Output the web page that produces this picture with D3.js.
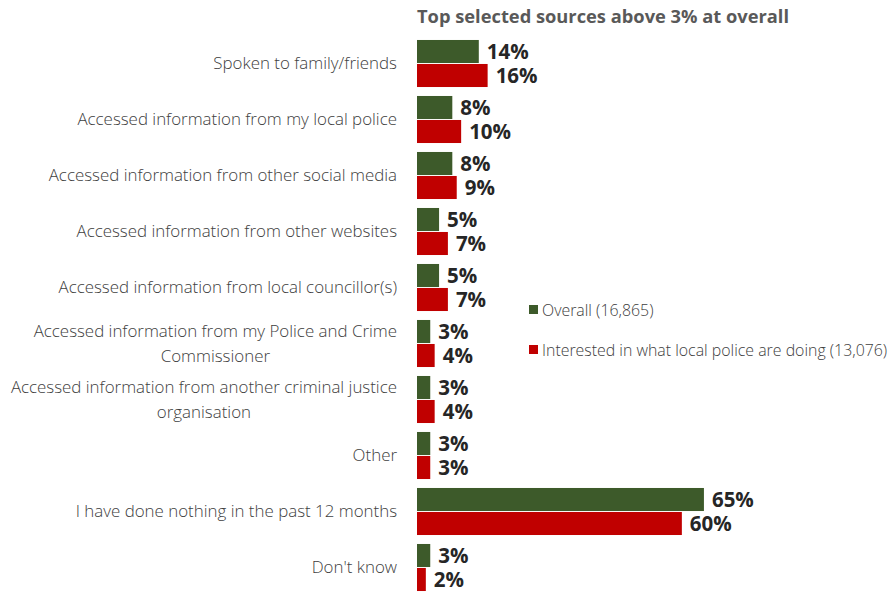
<!DOCTYPE html>
<html>
<head>
<meta charset="utf-8">
<script src="https://cdn.jsdelivr.net/npm/d3@7"></script>
<style>
  html, body { margin: 0; padding: 0; background: #ffffff; }
  svg { display: block; font-family: "Open Sans", "Noto Sans", sans-serif; }
</style>
</head>
<body>
<svg id="chart" width="890" height="592"></svg>
<script>
// Survey answers: which sources people used (percent of respondents)
const categories = [
  ["Spoken to family/friends"],
  ["Accessed information from my local police"],
  ["Accessed information from other social media"],
  ["Accessed information from other websites"],
  ["Accessed information from local councillor(s)"],
  ["Accessed information from my Police and Crime", "Commissioner"],
  ["Accessed information from another criminal justice", "organisation"],
  ["Other"],
  ["I have done nothing in the past 12 months"],
  ["Don't know"]
];
const seriesNames = ["Overall (16,865)", "Interested in what local police are doing (13,076)"];
const overall    = [14, 8, 8, 5, 5, 3, 3, 3, 65, 3];
const interested = [16, 10, 9, 7, 7, 4, 4, 3, 60, 2];
const colors = ["#3d5a2a", "#c00000"];
const title = "Top selected sources above 3% at overall";

const svg = d3.select("#chart");
const keys = categories.map(c => c.join(" "));
const values = [overall, interested];

const x = d3.scaleLinear().domain([0, 70]).range([417, 417 + 309]);
const y = d3.scaleBand().domain(keys).range([35.5, 595.5]).paddingInner(0.16).paddingOuter(0.08);
const ySub = d3.scaleBand().domain([0, 1]).range([0, y.bandwidth()]).paddingInner(0.04);

// Title
svg.append("text")
  .attr("x", 417).attr("y", 23)
  .attr("font-size", 18.3).attr("font-weight", 700)
  .attr("fill", "#595959")
  .text(title);

// Category labels (right aligned, wrapped ones centred under their first line)
const catG = svg.append("g");
categories.forEach((lines, i) => {
  const cy = y(keys[i]) + y.bandwidth() / 2;
  const lh = 25;
  const t = catG.append("text")
    .attr("text-anchor", "end")
    .attr("font-size", 16.9)
    .attr("font-weight", 300)
    .attr("fill", "#404040");
  lines.forEach((ln, j) => {
    t.append("tspan")
      .attr("x", 397)
      .attr("y", cy + (j - (lines.length - 1) / 2) * lh)
      .attr("dy", "0.35em")
      .text(ln);
  });
  if (lines.length > 1) {
    const tspans = t.selectAll("tspan").nodes();
    const w0 = tspans[0].getComputedTextLength();
    const mid = 397 - w0 / 2;
    tspans.forEach(ts => {
      d3.select(ts).attr("x", mid).attr("text-anchor", "middle");
    });
  }
});

// Bars and value labels
values.forEach((vals, s) => {
  const g = svg.append("g");
  g.selectAll("rect").data(vals).join("rect")
    .attr("x", x(0))
    .attr("y", (d, i) => y(keys[i]) + ySub(s))
    .attr("width", d => x(d) - x(0))
    .attr("height", ySub.bandwidth())
    .attr("fill", colors[s]);
  g.selectAll("text").data(vals).join("text")
    .attr("x", d => x(d) + 8)
    .attr("y", (d, i) => y(keys[i]) + ySub(s) + ySub.bandwidth() / 2)
    .attr("dy", "0.36em")
    .attr("font-size", 20.5).attr("font-weight", 700)
    .attr("fill", "#262626")
    .text(d => d + "%");
});

// Legend
const legend = svg.append("g");
seriesNames.forEach((name, i) => {
  const ly = 310 + i * 40;
  legend.append("rect")
    .attr("x", 529).attr("y", ly - 5)
    .attr("width", 9).attr("height", 9)
    .attr("fill", colors[i]);
  legend.append("text")
    .attr("x", 542).attr("y", ly)
    .attr("dy", "0.35em")
    .attr("font-size", 15.9)
    .attr("font-weight", 300)
    .attr("fill", "#404040")
    .text(name);
});
</script>
</body>
</html>
